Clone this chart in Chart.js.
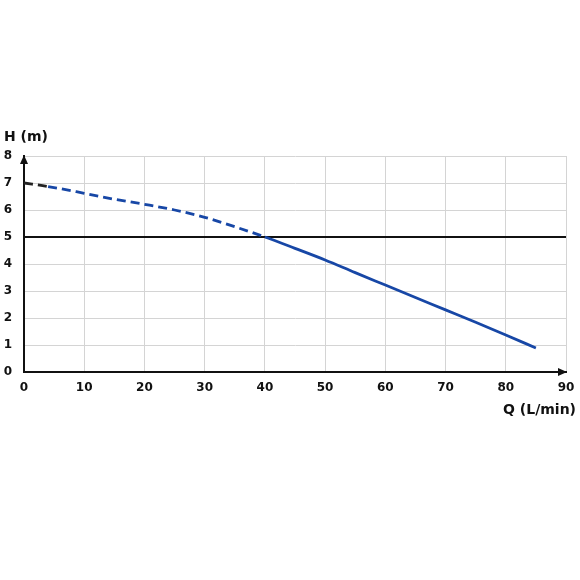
<!DOCTYPE html>
<html><head><meta charset="utf-8">
<script src="https://cdn.jsdelivr.net/npm/chart.js@4/dist/chart.umd.min.js"></script>
<style>html,body{margin:0;padding:0;background:#fff}#w{width:580px;height:580px}</style>
</head><body><div id="w"><canvas id="c" width="580" height="580"></canvas></div>
<script>
const flowQ = [0, 4, 10, 15, 20, 25, 30, 35, 40, 45, 50, 55, 60, 65, 70, 75, 80, 85];
const headH = [7.0, 6.87, 6.62, 6.40, 6.21, 6.00, 5.73, 5.38, 5.0, 4.58, 4.15, 3.68, 3.22, 2.76, 2.3, 1.84, 1.37, 0.89];
const refLineQ = [0, 90];
const refLineH = [5, 5];
const xTicks = [0,10,20,30,40,50,60,70,80,90];
const yTicks = [0,1,2,3,4,5,6,7,8];
const xTitle = 'Q (L/min)';
const yTitle = 'H (m)';
const BLUE = '#1747a6';
const FONT = 'DejaVu Sans';

const curve = flowQ.map((q,i)=>({x:q,y:headH[i]}));
const ref = refLineQ.map((q,i)=>({x:q,y:refLineH[i]}));

const arrows = {
  id:'arrows',
  afterDraw(chart){
    const {ctx, chartArea:a} = chart;
    ctx.save();
    ctx.fillStyle='#111';
    ctx.beginPath();
    ctx.moveTo(a.left, a.top-1);
    ctx.lineTo(a.left-4, a.top+8);
    ctx.lineTo(a.left+4, a.top+8);
    ctx.closePath(); ctx.fill();
    ctx.beginPath();
    ctx.moveTo(a.right+1, a.bottom);
    ctx.lineTo(a.right-8, a.bottom-4);
    ctx.lineTo(a.right-8, a.bottom+4);
    ctx.closePath(); ctx.fill();
    ctx.font = 'bold 14px "'+FONT+'"';
    ctx.textBaseline='middle';
    ctx.textAlign='left';
    ctx.fillText(yTitle, 4, 137);
    ctx.textAlign='right';
    ctx.fillText(xTitle, 576, 410);
    ctx.restore();
  }
};

new Chart(document.getElementById('c'), {
  type:'scatter',
  data:{datasets:[
    {data:ref, showLine:true, borderColor:'#111', borderWidth:2, pointRadius:0, order:2},
    {data:curve, showLine:true, borderColor:BLUE, borderWidth:2.8, pointRadius:0, cubicInterpolationMode:'monotone', order:1,
     segment:{
       borderColor: c => c.p0.parsed.x < 3.9 ? '#222' : BLUE,
       borderDash: c => c.p1.parsed.x <= 40 ? [9,5] : undefined
     }}
  ]},
  options:{
    responsive:false, animation:false,
    layout:{padding:{top:156, right:14, left:0, bottom:0}},
    plugins:{legend:{display:false}, tooltip:{enabled:false}},
    scales:{
      x:{type:'linear', min:0, max:90,
        afterFit(s){s.height=208; s.paddingRight=8;},
        afterBuildTicks(s){s.ticks = xTicks.map(v=>({value:v}));},
        grid:{color:'#d4d4d4', lineWidth:1, drawTicks:false},
        border:{color:'#111', width:2},
        ticks:{padding:9, color:'#111', font:{family:FONT, weight:'bold', size:12}}
      },
      y:{type:'linear', min:0, max:8,
        afterFit(s){s.width=24;},
        afterBuildTicks(s){s.ticks = yTicks.map(v=>({value:v}));},
        grid:{color:'#d4d4d4', lineWidth:1, drawTicks:false},
        border:{color:'#111', width:2},
        ticks:{padding:12, color:'#111', font:{family:FONT, weight:'bold', size:12}}
      }
    }
  },
  plugins:[arrows]
});
</script></body></html>
